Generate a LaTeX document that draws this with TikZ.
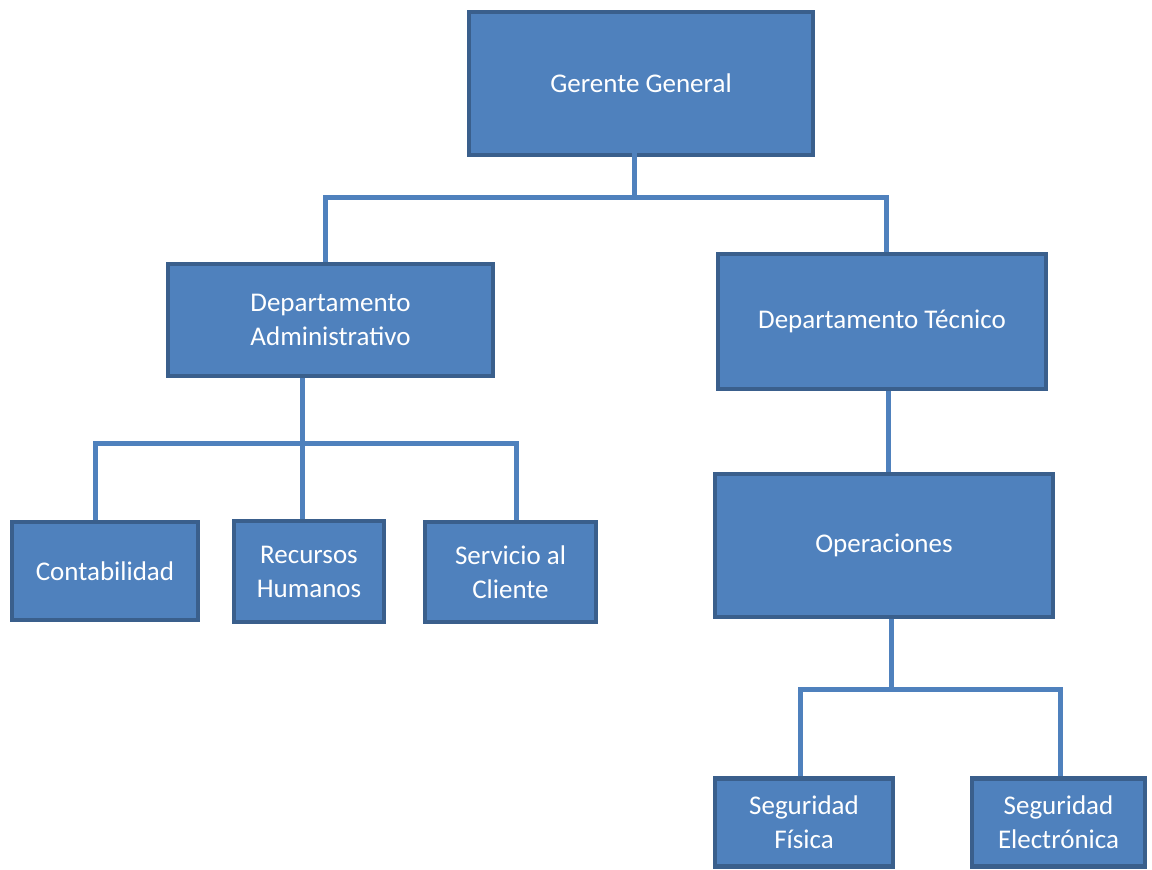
\documentclass[tikz,border=0pt]{standalone}
\usepackage{fontspec}
\setmainfont{Carlito}
\begin{document}
\begin{tikzpicture}[x=1pt,y=-1pt,
  box/.style={draw=boxborder,fill=boxfill,line width=4.5pt,text=white,align=center,
    inner sep=0pt,font=\fontsize{27pt}{34pt}\selectfont},
  conn/.style={draw=boxfill,line width=5pt}]
\definecolor{boxfill}{HTML}{4F81BD}
\definecolor{boxborder}{HTML}{3A5F8C}
\useasboundingbox (0,0) rectangle (1152,870);
\node[box,minimum width=344pt,minimum height=143pt] (gg) at (641,83.5) {Gerente General};
\node[box,minimum width=325pt,minimum height=112pt] (adm) at (330.5,320) {Departamento\\Administrativo};
\node[box,minimum width=328pt,minimum height=135pt] (tec) at (882,321.5) {Departamento Técnico};
\node[box,minimum width=186pt,minimum height=98pt] (con) at (105,571) {Contabilidad};
\node[box,minimum width=150pt,minimum height=101pt] (rh) at (309,571.5) {Recursos\\Humanos};
\node[box,minimum width=171pt,minimum height=100pt] (sc) at (510.5,572) {Servicio al\\Cliente};
\node[box,minimum width=338pt,minimum height=143pt] (op) at (884,545.5) {Operaciones};
\node[box,minimum width=178pt,minimum height=88pt] (sf) at (804,822.5) {Seguridad\\Física};
\node[box,minimum width=173pt,minimum height=88pt] (se) at (1058.5,822.5) {Seguridad\\Electrónica};
% Gerente -> departamentos
\coordinate (j1) at (634,197);
\draw[conn] ([xshift=-7pt,yshift=37pt]gg.south) -- (j1);
\draw[conn] (adm.north -| 325,0) |- (j1) -| (tec.north -| 886,0);
% Administrativo -> unidades
\coordinate (j2) at (302,443);
\draw[conn] (adm.south -| j2) -- (rh.north -| j2);
\draw[conn] (con.north -| 95,0) |- (j2) -| (sc.north -| 516,0);
% Tecnico -> Operaciones
\draw[conn] (tec.south -| 888,0) -- (op.north -| 888,0);
% Operaciones -> seguridad
\coordinate (j3) at (891,689);
\draw[conn] (op.south -| j3) -- (j3);
\draw[conn] (sf.north -| 800,0) |- (j3) -| (se.north -| 1060,0);
\end{tikzpicture}
\end{document}
